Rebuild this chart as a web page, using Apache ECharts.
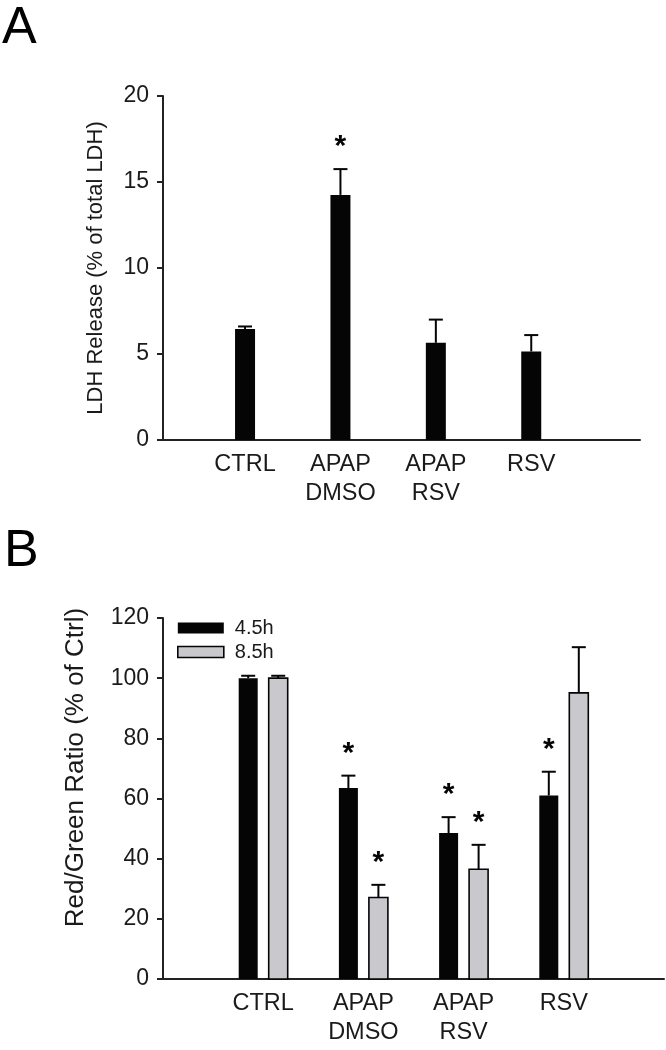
<!DOCTYPE html>
<html><head><meta charset="utf-8">
<script src="https://cdn.jsdelivr.net/npm/echarts@6/dist/echarts.min.js"></script>
<style>html,body{margin:0;padding:0;background:#fff}#c{width:666px;height:1050px}</style>
</head><body><div id="c"></div>
<script>
// ---- data ----
const categories = ['CTRL', 'APAP\nDMSO', 'APAP\nRSV', 'RSV'];
const ldhMean = [6.45, 14.25, 5.65, 5.15];
const ldhErr = [0.15, 1.5, 1.35, 0.95];
const ldhSig = [0, 1, 0, 0];
const seriesNames = ['4.5h', '8.5h'];
const ratio45Mean = [100, 63.5, 48.5, 61.0];
const ratio45Err = [0.8, 4.1, 5.3, 7.9];
const ratio45Sig = [0, 1, 1, 1];
const ratio85Mean = [100, 27.1, 36.5, 95.1];
const ratio85Err = [0.8, 4.2, 8.1, 15.2];
const ratio85Sig = [0, 1, 1, 0];

// ---- styling ----
const FONT = '"Liberation Sans", Arial, Helvetica, sans-serif';
const TXT = '#1a1a1a';
const AX = '#222';
const BLACK = '#050505';
const GRAY = '#c8c8cd';

function rows(mean, err, sig) {
  return mean.map((m, i) => [i + 1, m, err[i], sig[i]]);
}

function makeRender(offset, barW, fill, stroke) {
  return function (params, api) {
    const x = api.value(0), y = api.value(1), e = api.value(2), s = api.value(3);
    const p0 = api.coord([x, 0]);
    const p1 = api.coord([x, y]);
    const pe = api.coord([x, y + e]);
    const cx = p0[0] + offset;
    const capW = 14;
    const children = [
      { type: 'rect', shape: { x: cx - barW / 2, y: p1[1], width: barW, height: p0[1] - p1[1] },
        style: { fill: fill, stroke: stroke, lineWidth: stroke ? 1.6 : 0 } },
      { type: 'line', shape: { x1: cx, y1: p1[1], x2: cx, y2: pe[1] }, style: { stroke: BLACK, lineWidth: 2 } },
      { type: 'line', shape: { x1: cx - capW / 2, y1: pe[1], x2: cx + capW / 2, y2: pe[1] }, style: { stroke: BLACK, lineWidth: 2 } }
    ];
    if (s) {
      children.push({ type: 'text', x: cx, y: pe[1] - 22,
        style: { text: '*', fontSize: 30, fontWeight: 'bold', fontFamily: FONT, fill: BLACK, align: 'center', verticalAlign: 'middle' } });
    }
    return { type: 'group', children: children };
  };
}

function xAxisCfg(gridIndex, min, max) {
  return {
    type: 'value', gridIndex: gridIndex, min: min, max: max,
    axisLine: { show: true, onZero: false, lineStyle: { color: AX, width: 2 } },
    axisTick: { show: false },
    splitLine: { show: false },
    axisLabel: {
      customValues: [1, 2, 3, 4],
      formatter: v => categories[Math.round(v) - 1] || '',
      fontFamily: FONT, fontSize: 23.5, color: TXT, lineHeight: 29, margin: 10, align: 'center'
    }
  };
}

function yAxisCfg(gridIndex, max, interval, name, nameSize, nameGap, namePad) {
  return {
    type: 'value', gridIndex: gridIndex, min: 0, max: max, interval: interval,
    name: name, nameLocation: 'middle', nameGap: nameGap,
    nameTextStyle: { fontFamily: FONT, fontSize: nameSize, color: TXT, padding: namePad },
    axisLine: { show: true, lineStyle: { color: AX, width: 2 } },
    axisTick: { show: true, inside: false, length: 6, lineStyle: { color: AX, width: 2 } },
    splitLine: { show: false },
    axisLabel: { fontFamily: FONT, fontSize: 23, color: TXT, margin: 14 }
  };
}

const chart = echarts.init(document.getElementById('c'), null, { renderer: 'canvas' });
chart.setOption({
  backgroundColor: '#fff',
  animation: false,
  title: [
    { text: 'A', left: 2, top: 3, padding: 0, textStyle: { fontFamily: FONT, fontSize: 52, fontWeight: 'normal', color: '#000' } },
    { text: 'B', left: 4, top: 526, padding: 0, textStyle: { fontFamily: FONT, fontSize: 52, fontWeight: 'normal', color: '#000' } }
  ],
  legend: {
    orient: 'vertical', left: 177, top: 618, padding: 0,
    itemWidth: 46, itemHeight: 11, itemGap: 4, icon: 'rect',
    textStyle: { fontFamily: FONT, fontSize: 20, color: TXT, padding: [0, 0, 0, 6] },
    data: [
      { name: seriesNames[0], itemStyle: { color: BLACK, borderWidth: 0 } },
      { name: seriesNames[1], itemStyle: { color: GRAY, borderColor: BLACK, borderWidth: 1.6 } }
    ]
  },
  grid: [
    { left: 163, width: 477, top: 96, height: 344 },
    { left: 163, width: 501, top: 618, height: 361 }
  ],
  xAxis: [xAxisCfg(0, 0.14, 5.14), xAxisCfg(1, 0, 5)],
  yAxis: [
    yAxisCfg(0, 20, 5, 'LDH Release (% of total LDH)', 22, 56, 0),
    yAxisCfg(1, 120, 20, 'Red/Green Ratio (% of Ctrl)', 26, 74, [0, 0, 0, 62])
  ],
  series: [
    { name: 'LDH', type: 'custom', xAxisIndex: 0, yAxisIndex: 0, clip: false,
      encode: { x: 0, y: 1 }, data: rows(ldhMean, ldhErr, ldhSig),
      renderItem: makeRender(0, 20, BLACK, null) },
    { name: seriesNames[0], type: 'custom', xAxisIndex: 1, yAxisIndex: 1, clip: false,
      itemStyle: { color: BLACK },
      encode: { x: 0, y: 1 }, data: rows(ratio45Mean, ratio45Err, ratio45Sig),
      renderItem: makeRender(-15, 19, BLACK, null) },
    { name: seriesNames[1], type: 'custom', xAxisIndex: 1, yAxisIndex: 1, clip: false,
      itemStyle: { color: GRAY, borderColor: BLACK, borderWidth: 1.6 },
      encode: { x: 0, y: 1 }, data: rows(ratio85Mean, ratio85Err, ratio85Sig),
      renderItem: makeRender(15, 19, GRAY, BLACK) }
  ]
});
</script></body></html>
